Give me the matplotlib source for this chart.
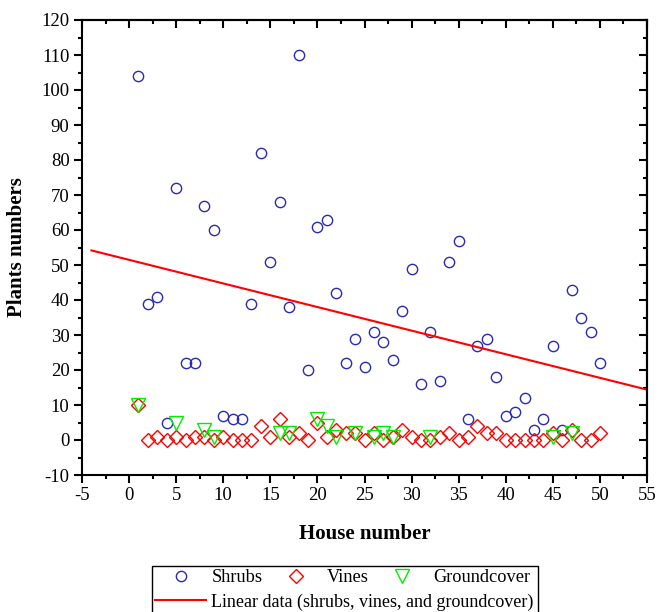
import matplotlib.pyplot as plt
import numpy as np
from matplotlib.ticker import MultipleLocator
from matplotlib.patches import Rectangle

plt.rcParams['font.family'] = ['Liberation Serif', 'DejaVu Serif']
plt.rcParams['axes.unicode_minus'] = False

# data
house = np.arange(1, 51)
shrubs = [104, 39, 41, 5, 72, 22, 22, 67, 60, 7,
          6, 6, 39, 82, 51, 68, 38, 110, 20, 61,
          63, 42, 22, 29, 21, 31, 28, 23, 37, 49,
          16, 31, 17, 51, 57, 6, 27, 29, 18, 7,
          8, 12, 3, 6, 27, 3, 43, 35, 31, 22]
vines = [10, 0, 1, 0, 1, 0, 1, 1, 0, 1,
         0, 0, 0, 4, 1, 6, 1, 2, 0, 5,
         1, 3, 2, 2, 0, 2, 0, 1, 3, 1,
         0, 0, 1, 2, 0, 1, 4, 2, 2, 0,
         0, 0, 0, 0, 2, 0, 3, 0, 0, 2]
gc_house = [1, 5, 8, 9, 16, 17, 20, 21, 22, 24, 26, 27, 28, 32, 45, 47]
groundcover = [10, 5, 3, 1, 2, 2, 6, 4, 1, 2, 1, 2, 1, 1, 1, 2]

fit_x = np.array([-4, 55])
coef = np.polyfit(house, shrubs, 1)

fig = plt.figure(figsize=(6.59, 6.12), dpi=100)
ax = fig.add_axes([82/659, 1-475/612, 565/659, 455/612])

h_s, = ax.plot(house, shrubs, 'o', ms=7.4, mfc='none', mec='#2a2ab4', mew=1, ls='none')
h_v, = ax.plot(house, vines, 'D', ms=6.8, mfc='none', mec='#ff0000', mew=1, ls='none')
h_g, = ax.plot(gc_house, groundcover, 'v', ms=9.5, mfc='none', mec='#00ee00', mew=1, ls='none')
h_l, = ax.plot(fit_x, np.polyval(coef, fit_x), color='#ff0000', lw=1.5)

ax.set_xlim(-5, 55)
ax.set_ylim(-10, 120)
ax.xaxis.set_major_locator(MultipleLocator(5))
ax.xaxis.set_minor_locator(MultipleLocator(2.5))
ax.yaxis.set_major_locator(MultipleLocator(10))
ax.yaxis.set_minor_locator(MultipleLocator(5))
ax.tick_params(which='major', direction='out', length=6, width=1.5, labelsize=13.5, pad=3)
ax.tick_params(which='minor', direction='out', length=3, width=1.5)
for s in ax.spines.values():
    s.set_linewidth(1.5)

top = ax.secondary_xaxis('top')
right = ax.secondary_yaxis('right')
top.xaxis.set_major_locator(MultipleLocator(5))
top.xaxis.set_minor_locator(MultipleLocator(2.5))
right.yaxis.set_major_locator(MultipleLocator(10))
right.yaxis.set_minor_locator(MultipleLocator(5))
for a in (top, right):
    a.tick_params(which='major', direction='in', length=6, width=1.5,
                  labeltop=False, labelright=False)
    a.tick_params(which='minor', direction='in', length=3, width=1.5)
    for s in a.spines.values():
        s.set_linewidth(1.5)

ax.set_xlabel('House number', fontsize=15, fontweight='bold', labelpad=14)
ax.set_ylabel('Plants numbers', fontsize=15, fontweight='bold', labelpad=10)

x0 = 155/659
fig.legend([h_s, h_v, h_g], ['Shrubs', 'Vines', 'Groundcover'], ncol=3,
           loc='center left', bbox_to_anchor=(x0, 1-578/612), frameon=False,
           fontsize=13.2, handlelength=2.8, handletextpad=0.3, columnspacing=0.4,
           borderpad=0, borderaxespad=0)
fig.legend([h_l], ['Linear data (shrubs, vines, and groundcover)'],
           loc='center left', bbox_to_anchor=(x0, 1-602/612), frameon=False,
           fontsize=13, handlelength=2.8, handletextpad=0.3,
           borderpad=0, borderaxespad=0)
fig.add_artist(Rectangle((152/659, -0.05), (538-152)/659, 0.05+1-566/612,
                         transform=fig.transFigure, fill=False, ec='black', lw=1))

fig.savefig('out.png', dpi=100)
